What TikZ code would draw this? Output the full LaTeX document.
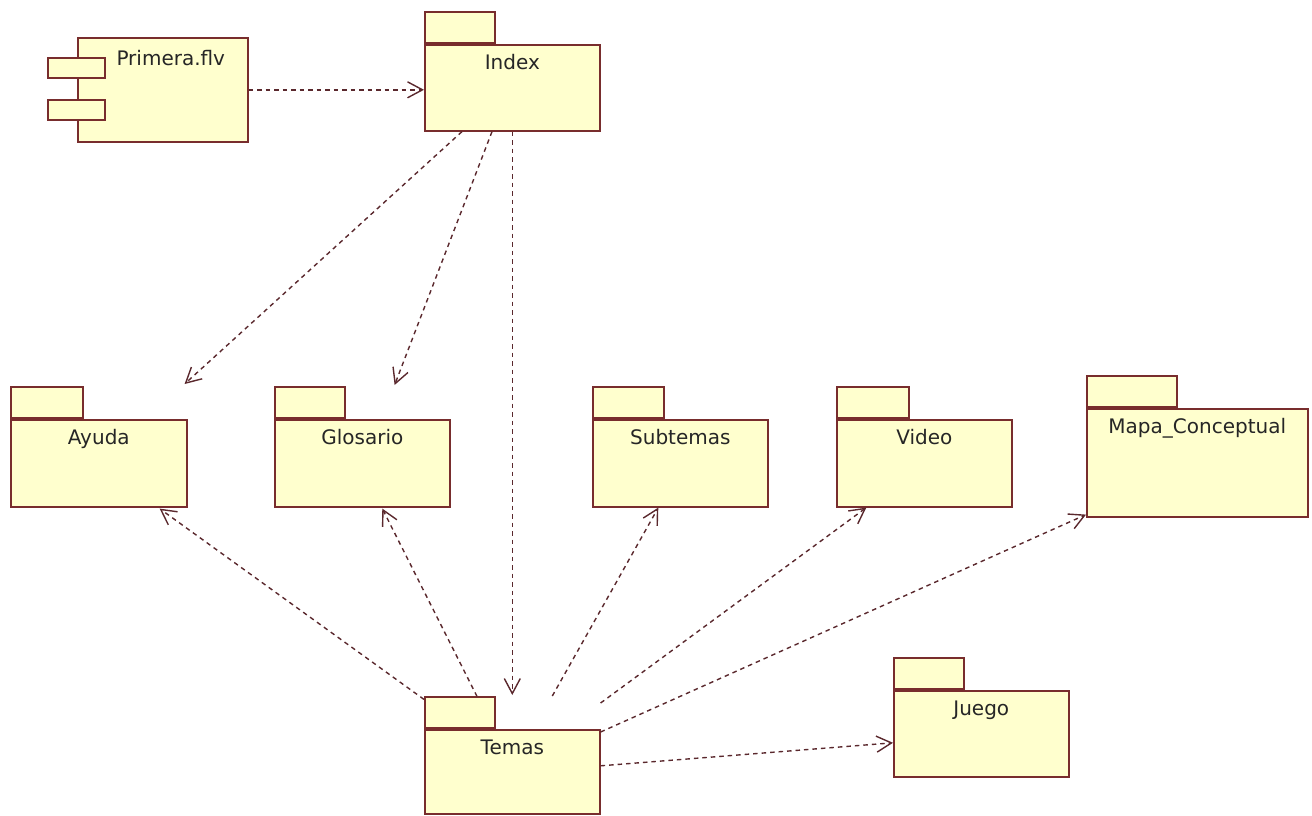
\documentclass[tikz,border=0pt]{standalone}
\usepackage{fontspec}
\setmainfont{DejaVu Sans}
\usetikzlibrary{arrows.meta,calc}
\definecolor{pkgfill}{RGB}{255,255,206}
\definecolor{pkgline}{RGB}{120,45,45}
\definecolor{deplin}{RGB}{90,40,45}
\tikzset{
  box/.style={draw=pkgline, fill=pkgfill, line width=1.6pt, rectangle, inner sep=0pt, anchor=north west},
  lbl/.style={anchor=base, inner sep=0pt, font=\fontsize{20}{23}\selectfont, text=black!85},
  dep/.style={draw=deplin, line width=1.4pt, dash pattern=on 4.5pt off 4pt,
    -{Straight Barb[length=15pt,width=16pt,line width=1.4pt]}}
}
\newcommand{\pkgbox}[7]{%
  \node[box, minimum width=#4pt, minimum height=#5pt] (#1) at (#2,#3) {};
  \node[box, minimum width=#7pt, minimum height=31pt, anchor=south west] (#1tab) at (#1.north west) {};
  \node[lbl] (#1lbl) at ($(#1.north)+(0,25)$) {#6};
}
\begin{document}
\begin{tikzpicture}[x=1pt,y=-1pt]
\useasboundingbox (0,0) rectangle (1312,815);
% component
\node[box, minimum width=170pt, minimum height=104pt] (primera) at (77,37) {};
\node[box, minimum width=57pt, minimum height=20pt] (primeraA) at (47,57) {};
\node[box, minimum width=57pt, minimum height=20pt] (primeraB) at (47,99) {};
\node[lbl] (primeralbl) at ($(primera.north)+(8,28)$) {Primera.flv};
% packages
\pkgbox{index}{424}{44}{175}{86}{Index}{70}
\pkgbox{ayuda}{10}{419}{176}{87}{Ayuda}{72}
\pkgbox{glosario}{274}{419}{175}{87}{Glosario}{70}
\pkgbox{subtemas}{592}{419}{175}{87}{Subtemas}{71}
\pkgbox{video}{836}{419}{175}{87}{Video}{72}
\pkgbox{mapa}{1086}{408}{221}{108}{Mapa\_Conceptual}{90}
\pkgbox{temas}{424}{729}{175}{84}{Temas}{70}
\pkgbox{juego}{893}{690}{175}{86}{Juego}{70}
% dependencies
\draw[dep] (primera.east) -- (primera.east -| index.west);
\draw[dep] ($(index.south west)+(38,0)$) -- ($(ayuda.north east)+(-3,-35)$);
\draw[dep] ($(index.south west)+(68,0)$) -- ($(glosario.north east)+(-56,-34)$);
\draw[dep] (index.south) -- ($(temas.north)+(0,-34)$);
\draw[dep] ($(temastab.north west)+(0,3)$) -- ($(ayuda.south east)+(-28,1)$);
\draw[dep] ($(temastab.north west)+(53,0)$) -- ($(glosario.south)+(20,1)$);
\draw[dep] ($(temas.north)+(40,-33)$) -- ($(subtemas.south)+(-22,0)$);
\draw[dep] ($(temas.north east)+(0,-26)$) -- ($(video.south)+(-58,0)$);
\draw[dep] ($(temas.north east)+(0,3)$) -- ($(mapa.south west)+(0,-3)$);
\draw[dep] ($(temas.east)+(0,-6)$) -- ($(juego.west)+(0,9)$);
\end{tikzpicture}
\end{document}
